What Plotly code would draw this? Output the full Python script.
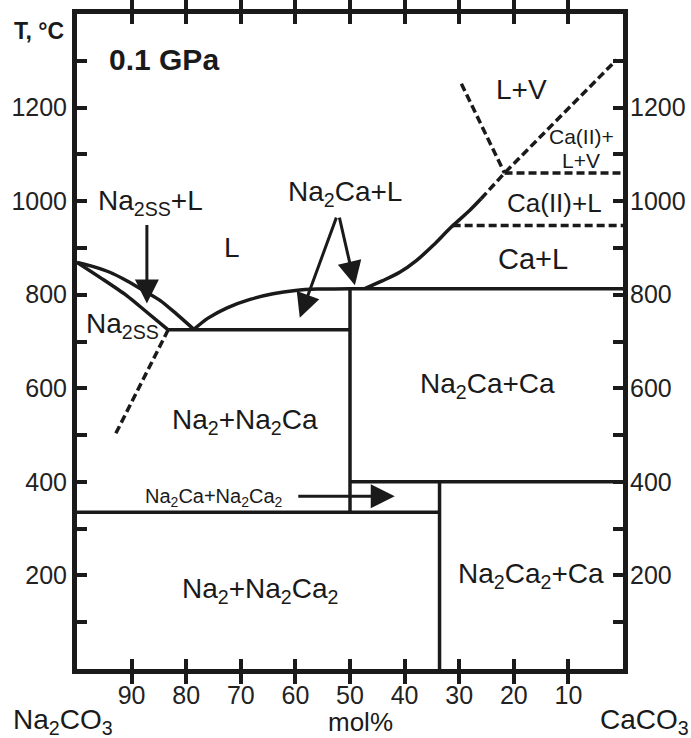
import plotly.graph_objects as go

# ---------------- data (x = mol% Na2CO3, T in degC) ----------------
liq_na2_x = [100, 97.0, 94.0, 90.9, 87.25, 84.8, 81.8, 78.7]
liq_na2_T = [869, 860, 848, 830, 805, 788, 759, 727]
sol_na2_x = [100, 95.8, 90.9, 87.25, 83.3]
sol_na2_T = [869, 837, 798, 763, 725]
solvus_x = [83.3, 93.0]
solvus_T = [725, 501]
liq_na2ca_x = [78.7, 76.0, 72.5, 68.3, 64.1, 60.0, 56.0, 50.0]
liq_na2ca_T = [725, 750, 772, 790, 802, 809, 812, 813]
liq_ca_x = [47.3, 44.0, 40.9, 37.85, 34.8, 31.5, 28.1, 26.0]
liq_ca_T = [813, 830, 848, 873, 905, 944, 980, 1005]
liq_ca_dash_x = [26.0, 21.7, 1.2]
liq_ca_dash_T = [1005, 1060, 1302]
lv_x = [29.6, 21.7]
lv_T = [1251, 1060]

# solid tie lines / boundaries: (x0, T0, x1, T1)
solid_lines = [
    (83.3, 725, 50.0, 725),
    (50.0, 813, 0.0, 813),
    (50.0, 400, 0.0, 400),
    (100.0, 335, 33.6, 335),
    (50.0, 335, 50.0, 813),
    (33.6, 0, 33.6, 400),
]
dashed_lines = [
    (21.7, 1060, 0.0, 1060),
    (31.2, 948, 0.0, 948),
]

x_ticks = [90, 80, 70, 60, 50, 40, 30, 20, 10]
y_ticks = list(range(100, 1400, 100))
y_labels = [str(v) if v % 200 == 0 else "" for v in y_ticks]
y2_ticks = [200, 400, 600, 800, 1000, 1200]

# region labels: (text, x, T, size, anchor)
def s(t):
    return "<sub>" + t + "</sub>"

labels = [
    ("L", 71.7, 901, 28, "center"),
    ("Na" + s("2SS") + "+L", 86.5, 998, 28, "center"),
    ("Na" + s("2") + "Ca+L", 51.0, 1017, 28, "center"),
    ("L+V", 18.65, 1238, 28, "center"),
    ("Ca(II)+", 1.2, 1138, 21, "right"),
    ("L+V", 3.8, 1087, 21, "right"),
    ("Ca(II)+L", 12.55, 997, 26, "center"),
    ("Ca+L", 16.4, 877, 29, "center"),
    ("Na" + s("2SS"), 91.6, 735, 28, "center"),
    ("Na" + s("2") + "+Na" + s("2") + "Ca", 69.3, 528, 28, "center"),
    ("Na" + s("2") + "Ca+Ca", 24.9, 607, 28, "center"),
    ("Na" + s("2") + "Ca+Na" + s("2") + "Ca" + s("2"), 74.9, 366, 20, "center"),
    ("Na" + s("2") + "+Na" + s("2") + "Ca" + s("2"), 66.5, 167, 28, "center"),
    ("Na" + s("2") + "Ca" + s("2") + "+Ca", 16.8, 199, 28, "center"),
]

# arrows: (tail x, tail T, head x, head T)
arrows = [
    (87.2, 952, 87.2, 781),
    (52.4, 968, 59.2, 751),
    (52.0, 968, 49.1, 820),
    (59.75, 369, 41.8, 369),
]

FONT = "Liberation Sans, Arial, Helvetica, sans-serif"
INK = "#1a1a1a"
LW = 3.5

fig = go.Figure()

def add_line(xs, ts, dash=None, spline=False):
    fig.add_trace(go.Scatter(
        x=xs, y=ts, mode="lines", showlegend=False, hoverinfo="skip",
        line=dict(color=INK, width=LW, dash=dash,
                  shape="spline" if spline else "linear", smoothing=0.8),
        cliponaxis=False,
    ))

add_line(liq_na2_x, liq_na2_T, spline=True)
add_line(sol_na2_x, sol_na2_T, spline=True)
add_line(solvus_x, solvus_T, dash="8px,4px")
add_line(liq_na2ca_x, liq_na2ca_T, spline=True)
add_line(liq_ca_x, liq_ca_T, spline=True)
add_line(liq_ca_dash_x, liq_ca_dash_T, dash="8px,4px")
add_line(lv_x, lv_T, dash="8px,4px")
for x0, t0, x1, t1 in solid_lines:
    add_line([x0, x1], [t0, t1])
for x0, t0, x1, t1 in dashed_lines:
    add_line([x0, x1], [t0, t1], dash="8px,4px")

# invisible trace for right-hand axis
fig.add_trace(go.Scatter(x=[50], y=[700], yaxis="y2", mode="markers",
                         marker=dict(opacity=0), showlegend=False, hoverinfo="skip"))

ann = []
for text, x, t, size, anchor in labels:
    ann.append(dict(x=x, y=t, xref="x", yref="y", text=text, showarrow=False,
                    xanchor=anchor, yanchor="middle",
                    font=dict(family=FONT, size=size, color=INK)))
for ax_, at_, hx, ht in arrows:
    ann.append(dict(x=hx, y=ht, xref="x", yref="y", ax=ax_, ay=at_,
                    axref="x", ayref="y", text="", showarrow=True,
                    arrowhead=2, arrowsize=1.6, arrowwidth=3, arrowcolor=INK))

W, H = 691, 738
L_, R_, T_, B_ = 77, 68, 14, 69
pw, ph = W - L_ - R_, H - T_ - B_

def px(xp, yp):
    return (xp - L_) / pw, (H - B_ - yp) / ph

for text, xp, yp, size, bold in [
    ("T, °C", 39, 31, 23, True),
    ("0.1 GPa", 164, 59, 30, True),
    ("Na" + s("2") + "CO" + s("3"), 63, 721, 28, False),
    ("mol%", 360, 722, 26, False),
    ("CaCO" + s("3"), 644, 721, 28, False),
]:
    xx, yy = px(xp, yp)
    ann.append(dict(x=xx, y=yy, xref="paper", yref="paper",
                    text="<b>" + text + "</b>" if bold else text,
                    showarrow=False, xanchor="center", yanchor="middle",
                    font=dict(family=FONT, size=size, color=INK)))

axis_common = dict(showgrid=False, zeroline=False, showline=True, linewidth=5,
                   linecolor=INK, ticks="inside", ticklen=10, tickwidth=4,
                   tickcolor=INK, mirror="allticks", automargin=False,
                   tickfont=dict(family=FONT, size=25, color="#222"))

fig.update_layout(
    width=W, height=H,
    margin=dict(l=L_, r=R_, t=T_, b=B_, autoexpand=False),
    paper_bgcolor="white", plot_bgcolor="white",
    xaxis=dict(range=[100, 0], tickvals=x_ticks, ticktext=[str(v) for v in x_ticks],
               **axis_common),
    yaxis=dict(range=[0, 1400], tickvals=y_ticks, ticktext=y_labels, **axis_common),
    yaxis2=dict(range=[0, 1400], overlaying="y", side="right", tickvals=y2_ticks,
                ticktext=[str(v) for v in y2_ticks], showgrid=False, zeroline=False,
                showline=False, ticks="", ticklabelstandoff=6, automargin=False,
                tickfont=dict(family=FONT, size=25, color="#222")),
    annotations=ann,
    showlegend=False,
)

fig.write_html("out.html")
